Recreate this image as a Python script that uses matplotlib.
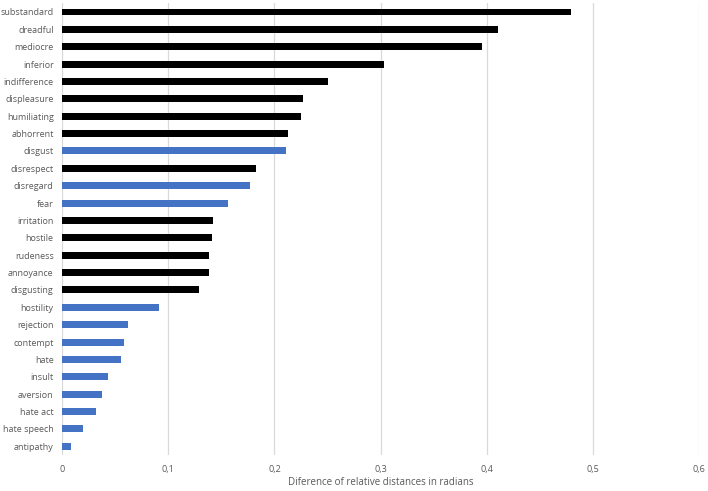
import numpy as np
import matplotlib
matplotlib.use('Agg')
import matplotlib.pyplot as plt

# words from top to bottom, with the plotted difference and whether the bar is blue
words = ['substandard', 'dreadful', 'mediocre', 'inferior', 'indifference', 'displeasure',
         'humiliating', 'abhorrent', 'disgust', 'disrespect', 'disregard', 'fear',
         'irritation', 'hostile', 'rudeness', 'annoyance', 'disgusting', 'hostility',
         'rejection', 'contempt', 'hate', 'insult', 'aversion', 'hate act',
         'hate speech', 'antipathy']
values = [0.479, 0.4105, 0.3955, 0.303, 0.250, 0.2266,
          0.2248, 0.213, 0.2106, 0.183, 0.1773, 0.156,
          0.1419, 0.141, 0.1387, 0.1384, 0.1293, 0.0913,
          0.0625, 0.058, 0.0555, 0.043, 0.0377, 0.032,
          0.020, 0.0082]
blue = ['disgust', 'disregard', 'fear', 'hostility', 'rejection', 'contempt', 'hate',
        'insult', 'aversion', 'hate act', 'hate speech', 'antipathy']

xticks = [0, 0.1, 0.2, 0.3, 0.4, 0.5, 0.6]
xlabels = ['0', '0,1', '0,2', '0,3', '0,4', '0,5', '0,6']

plt.rcParams['font.family'] = ['Open Sans', 'DejaVu Sans']
fig = plt.figure(figsize=(7.08, 4.91), dpi=100)
ax = fig.add_axes([0.0876, 0.0733, 0.9, 0.92])

pos = np.arange(len(words))[::-1]
cols = ['#4472C4' if w in blue else 'black' for w in words]
ax.barh(pos, values, height=0.4, color=cols, zorder=3)

ax.set_xlim(0, 0.6)
ax.set_ylim(-0.5, len(words) - 0.5)
ax.set_yticks(pos)
ax.set_yticklabels(words)
ax.set_xticks(xticks)
ax.set_xticklabels(xlabels)
ax.tick_params(length=0, labelsize=6.5, labelcolor='#595959')
ax.tick_params(axis='x', pad=7)
ax.tick_params(axis='y', pad=6)
ax.grid(axis='x', color='#d9d9d9', linewidth=0.9, zorder=0)
for s in ax.spines.values():
    s.set_visible(False)
ax.set_xlabel('Diference of relative distances in radians', fontsize=7, color='#595959', labelpad=2)

plt.savefig('out.png')
